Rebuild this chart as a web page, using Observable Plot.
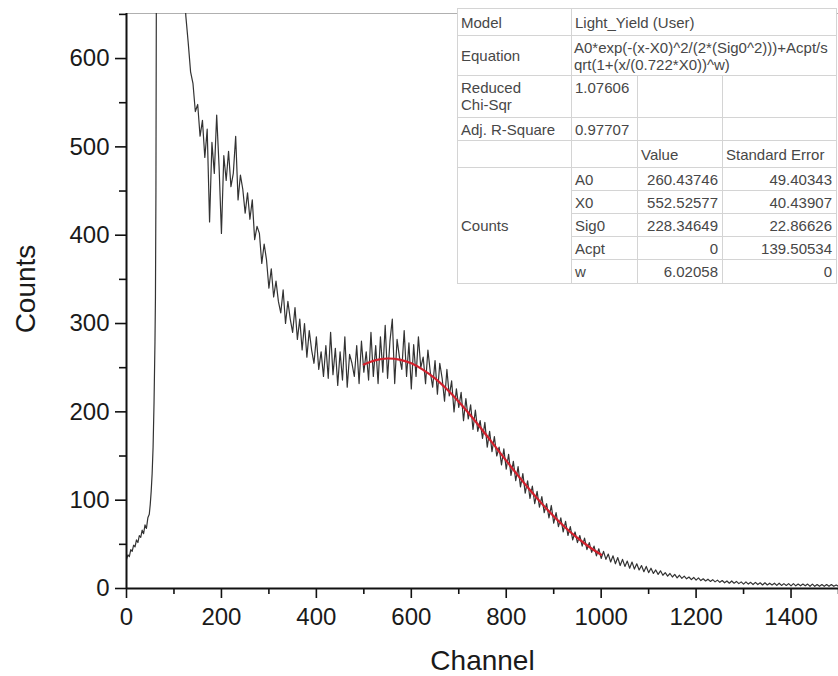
<!DOCTYPE html>
<html>
<head>
<meta charset="utf-8">
<script src="https://cdn.jsdelivr.net/npm/d3@7"></script>
<script src="https://cdn.jsdelivr.net/npm/@observablehq/plot@0.6"></script>
<style>
  html, body { margin: 0; padding: 0; background: #fff; }
  #wrap { position: relative; width: 838px; height: 676px; overflow: hidden; font-family: "Liberation Sans", Arial, sans-serif; }
  #fit { position: absolute; left: 457px; top: 8px; border-collapse: collapse; table-layout: fixed; background: #fff;
         font-family: "Liberation Sans", Arial, sans-serif; font-size: 15px; color: #474747; border: 1px solid #9a9a9a; }
  #fit td { border: 1px solid #d4d4d4; padding: 0 2px 0 3px; white-space: nowrap; overflow: visible; line-height: 17px; }
  #fit td.num { text-align: right; padding-right: 4px; }
  #fit td.top { vertical-align: top; padding-top: 3px; }
</style>
</head>
<body>
<div id="wrap"></div>
<script>
// ---- Measured spectrum: low-channel region (channels listed explicitly) ----
const lowChannels = [0, 3, 6, 9, 12, 15, 18, 21, 24, 27, 30, 33, 36, 39, 42, 45, 48, 50, 52, 54, 56, 58, 60, 61, 62, 63, 65, 70, 80, 90, 100, 110, 115, 120];
const lowCounts   = [33, 38, 36, 44, 42, 49, 47, 55, 52, 60, 58, 66, 62, 72, 68, 80, 84, 95, 110, 130, 160, 210, 280, 330, 450, 700, 900, 1100, 1200, 1150, 1050, 900, 800, 700];

// ---- Measured spectrum: channels 125..1500, every 5 channels ----
const mainStart = 125;
const mainStep = 5;
const mainCounts = [
  648, 618, 585, 572, 540, 548, 512, 530, 488, 520, 415, 505, 470, 536, 478, 402,
  490, 462, 495, 455, 470, 512, 440, 468, 452, 425, 448, 418, 440, 395, 410, 402,
  368, 390, 372, 340, 362, 330, 348, 325, 312, 338, 300, 325, 305, 290, 318, 282,
  305, 270, 300, 262, 292, 270, 255, 285, 248, 268, 240, 275, 238, 290, 242, 272,
  230, 268, 236, 285, 228, 265, 255, 240, 275, 232, 280, 245, 268, 236, 290, 240,
  275, 232, 285, 245, 298, 238, 280, 305, 232, 282, 262, 248, 292, 240, 278, 226,
  276, 240, 285, 250, 262, 232, 270, 245, 228, 258, 220, 255, 238, 212, 248, 218,
  235, 200, 226, 205, 222, 190, 215, 192, 208, 180, 202, 178, 190, 170, 188, 160,
  178, 155, 172, 150, 160, 140, 158, 135, 152, 128, 144, 122, 138, 115, 130, 108,
  122, 102, 116, 96, 110, 92, 104, 86, 96, 80, 94, 74, 86, 70, 80, 64,
  76, 60, 70, 55, 64, 52, 60, 48, 57, 44, 52, 41, 48, 37, 45, 34,
  42, 33, 39, 30, 37, 28, 35, 26, 33, 25, 31, 23, 30, 22, 28, 21,
  26, 19, 25, 18, 23, 17, 21, 16, 20, 15, 18, 14, 17, 13, 16, 12,
  15, 11.5, 14, 11, 13, 10, 12.5, 9.5, 12, 9, 11, 8.5, 10.5, 8, 10, 7.5,
  9.5, 7, 9, 6.5, 8.5, 6, 8.5, 6, 8, 5.5, 7.5, 5, 7.5, 5, 7, 4.5,
  7, 4.5, 6.5, 4, 6.5, 4, 6, 4, 6, 3.5, 6, 3.5, 5.5, 3.5, 5.5, 3,
  5.5, 3, 5, 3, 5, 3, 5, 2.5, 5, 2.5, 4.5, 2.5, 4.5, 2.5, 4.5, 2.5,
  4.5, 2.5, 4, 2.5
];

// ---- Fitted curve (red) ----
const fitChannels = [500, 525, 550, 575, 600, 625, 650, 675, 700, 725, 750, 775, 800, 825, 850, 875, 900, 925, 950, 975, 1000];
const fitCounts   = [253.6, 258.6, 260.4, 259.2, 254.9, 247.6, 237.8, 225.5, 211.4, 195.8, 179.2, 162.0, 144.8, 127.8, 111.5, 96.1, 81.8, 68.8, 57.2, 47.0, 38.2];

// ---- Axis ticks ----
const xMajorTicks = [0, 200, 400, 600, 800, 1000, 1200, 1400];
const xMinorTicks = [100, 300, 500, 700, 900, 1100, 1300, 1500];
const yMajorTicks = [0, 100, 200, 300, 400, 500, 600];
const yMinorTicks = [50, 150, 250, 350, 450, 550, 650];

// ---- Fit-report table ----
const paramNames  = ["A0", "X0", "Sig0", "Acpt", "w"];
const paramValues = ["260.43746", "552.52577", "228.34649", "0", "6.02058"];
const paramErrors = ["49.40343", "40.43907", "22.86626", "139.50534", "0"];

const spectrum = [];
lowChannels.forEach((c, i) => spectrum.push({channel: c, count: lowCounts[i]}));
mainCounts.forEach((v, i) => spectrum.push({channel: mainStart + i * mainStep, count: v}));
const fit = fitChannels.map((c, i) => ({channel: c, count: fitCounts[i]}));

const chart = Plot.plot({
  width: 838,
  height: 676,
  marginLeft: 126,
  marginRight: 0,
  marginTop: 13,
  marginBottom: 88,
  x: {domain: [0, 1500]},
  y: {domain: [0, 651]},
  style: {fontFamily: "'Liberation Sans', Arial, sans-serif", fontSize: "24px", color: "#1a1a1a", background: "white", overflow: "visible"},
  marks: [
    Plot.ruleY([651], {stroke: "#b0b0b0", strokeWidth: 1}),
    Plot.line(spectrum, {x: "channel", y: "count", stroke: "#333", strokeWidth: 1.2, clip: true}),
    Plot.line(fit, {x: "channel", y: "count", stroke: "#d3202c", strokeWidth: 2.2, curve: "catmull-rom"}),
    Plot.axisX({ticks: xMajorTicks, tickFormat: d => String(d), tickSize: 10, tickPadding: 9, fontSize: 24, label: null, strokeWidth: 1.6, stroke: "#111"}),
    Plot.axisX({ticks: xMinorTicks, tickSize: 6, tickFormat: () => "", label: null, strokeWidth: 1.6, stroke: "#111"}),
    Plot.axisY({ticks: yMajorTicks, tickFormat: d => String(d), tickSize: 11, tickPadding: 6, fontSize: 24, label: null, strokeWidth: 1.6, stroke: "#111"}),
    Plot.axisY({ticks: yMinorTicks, tickSize: 7, tickFormat: () => "", label: null, strokeWidth: 1.6, stroke: "#111"}),
    Plot.ruleX([0], {stroke: "#111", strokeWidth: 2}),
    Plot.ruleY([0], {stroke: "#111", strokeWidth: 2}),
    Plot.text(["Channel"], {text: d => d, frameAnchor: "bottom", textAnchor: "middle", dy: 81, fontSize: 28, fill: "#1a1a1a"}),
    Plot.text(["Counts"], {text: d => d, frameAnchor: "left", textAnchor: "middle", lineAnchor: "middle", dx: -100, dy: -12, rotate: -90, fontSize: 28, fill: "#1a1a1a"})
  ]
});

const wrap = document.getElementById("wrap");
wrap.appendChild(chart);

// Build the fit-report table from the arrays
const colW = [114, 66, 85, 114];
let html = '<table id="fit"><colgroup>' + colW.map(w => `<col style="width:${w}px">`).join("") + '</colgroup>';
html += '<tr style="height:27px"><td>Model</td><td colspan="3">Light_Yield (User)</td></tr>';
html += '<tr style="height:40px"><td>Equation</td><td colspan="3" style="padding-left:2px;padding-right:0">A0*exp(-(x-X0)^2/(2*(Sig0^2)))+Acpt/s<br>qrt(1+(x/(0.722*X0))^w)</td></tr>';
html += '<tr style="height:42px"><td class="top">Reduced<br>Chi-Sqr</td><td class="top">1.07606</td><td></td><td></td></tr>';
html += '<tr style="height:23px"><td>Adj. R-Square</td><td>0.97707</td><td></td><td></td></tr>';
html += '<tr style="height:27px"><td></td><td></td><td>Value</td><td>Standard Error</td></tr>';
paramNames.forEach((p, i) => {
  html += `<tr style="height:${i === 4 ? 24 : 23}px">` +
    (i === 0 ? '<td rowspan="5">Counts</td>' : '') +
    `<td>${p}</td><td class="num">${paramValues[i]}</td><td class="num">${paramErrors[i]}</td></tr>`;
});
html += '</table>';
wrap.insertAdjacentHTML("beforeend", html);
</script>
</body>
</html>
